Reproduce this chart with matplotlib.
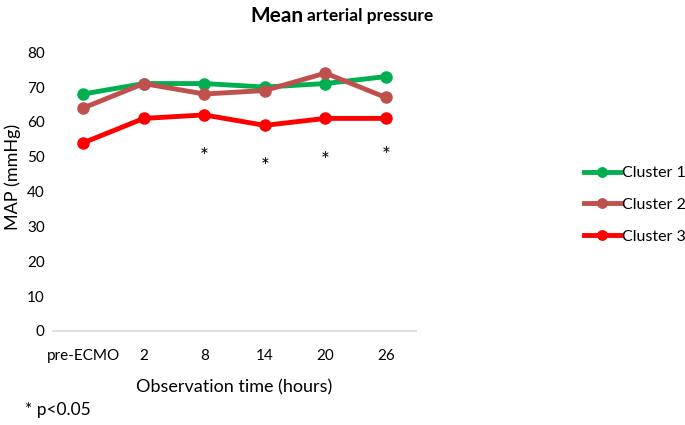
import matplotlib
matplotlib.use('Agg')
import matplotlib.pyplot as plt

plt.rcParams['font.family'] = ['Lato', 'DejaVu Sans']

# Dados
tempos = ['pre-ECMO', '2', '8', '14', '20', '26']
cluster1 = [68, 71, 71, 70, 71, 73]
cluster2 = [64, 71, 68, 69, 74, 67]
cluster3 = [54, 61, 62, 59, 61, 61]
# asteriscos de significancia (posicao do tempo, altura)
sig_idx = [2, 3, 4, 5]
sig_y = [51.9, 49.0, 50.7, 52.1]
y_ticks = [0, 10, 20, 30, 40, 50, 60, 70, 80]

fig = plt.figure(figsize=(6.85, 4.25), dpi=100)
ax = fig.add_axes([0.0774, 0.2212, 0.530, 0.656])

x = list(range(len(tempos)))
ax.plot(x, cluster1, color='#00B050', lw=3.5, marker='o', ms=8, label='Cluster 1', zorder=3)
ax.plot(x, cluster2, color='#C0504D', lw=3.5, marker='o', ms=8, label='Cluster 2', zorder=4)
ax.plot(x, cluster3, color='#FF0000', lw=3.5, marker='o', ms=8, label='Cluster 3', zorder=3)

# asterisco: baseline deslocado para centrar o glifo no valor
for i, yv in zip(sig_idx, sig_y):
    ax.annotate('*', (i, yv), xytext=(0, -9), textcoords='offset points',
                ha='center', va='baseline', fontsize=15, color='black')

ax.set_xlim(-0.5, 5.5)
ax.set_ylim(0, 80)
ax.set_xticks(x)
ax.set_xticklabels(tempos)
ax.set_yticks(y_ticks)
ax.tick_params(length=0, labelsize=11)
ax.tick_params(axis='x', pad=13)
ax.tick_params(axis='y', pad=6)

for s in ['top', 'right', 'left']:
    ax.spines[s].set_visible(False)
ax.spines['bottom'].set_color('#D9D9D9')
ax.spines['bottom'].set_linewidth(1.2)

ax.set_xlabel('Observation time (hours)', fontsize=13, labelpad=12)
fig.text(0.018, 1 - 177 / 425, 'MAP (mmHg)', fontsize=13, rotation=90, ha='center', va='center')

ax.legend(loc='center left', bbox_to_anchor=(0.852, 0.518), bbox_transform=fig.transFigure,
          frameon=False, fontsize=11.5, handlelength=2.3, labelspacing=1.1,
          handletextpad=0.1, markerscale=0.85, borderpad=0, borderaxespad=0)

# Titulo com tamanhos diferentes
fig.text(0.443, 0.962, 'Mean', fontsize=15, fontweight='bold', ha='right', va='center')
fig.text(0.448, 0.962, 'arterial pressure', fontsize=12.5, fontweight='bold', ha='left', va='center')

fig.text(0.036, 0.035, '* p<0.05', fontsize=12.5, ha='left', va='center')

fig.savefig('out.png', dpi=100)
